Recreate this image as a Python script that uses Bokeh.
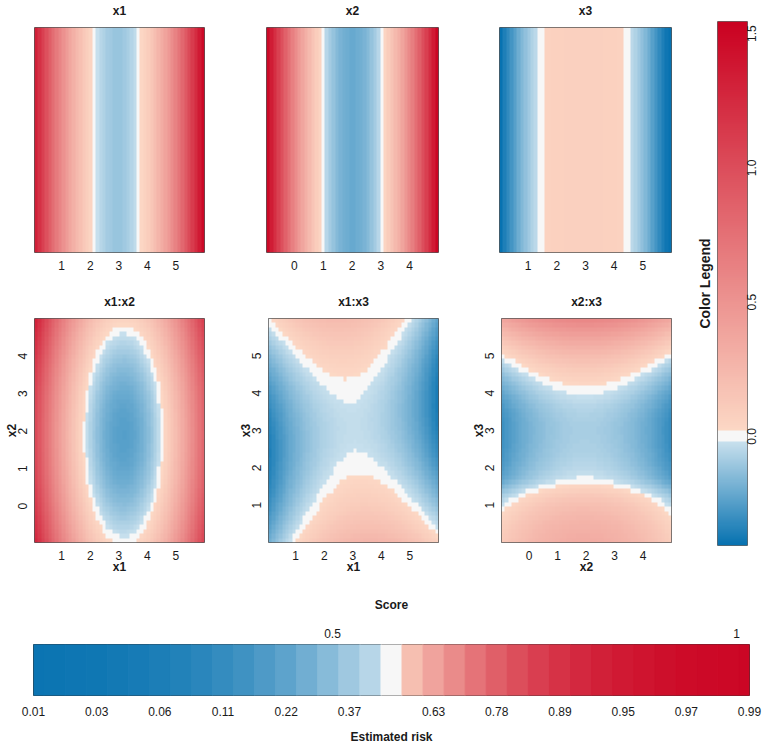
import math
import numpy as np
from bokeh.plotting import figure
from bokeh.models import Range1d, LinearColorMapper, FixedTicker, LinearAxis, ColumnDataSource
from bokeh.layouts import row, column
from bokeh.embed import file_html
from bokeh.resources import INLINE

# ---------------- data ----------------
X1_RANGE = (0.05, 6.0)
X2_RANGE = (-0.97, 5.0)
X3_RANGE = (0.0, 6.0)

x1_ticks = [1, 2, 3, 4, 5]
x2_ticks = [0, 1, 2, 3, 4]
x3_ticks = [1, 2, 3, 4, 5]

# single-term effects (50 cells across each variable's range)
x1_effect = [1.32, 1.20, 1.09, 0.98, 0.88, 0.78, 0.69, 0.60, 0.52, 0.44,
             0.37, 0.31, 0.24, 0.19, 0.13, 0.09, 0.05, 0.01, -0.02, -0.05,
             -0.07, -0.09, -0.10, -0.11, -0.11, -0.11, -0.10, -0.08, -0.06, -0.04,
             -0.01, 0.03, 0.06, 0.10, 0.15, 0.21, 0.27, 0.33, 0.40, 0.47,
             0.55, 0.63, 0.72, 0.82, 0.92, 1.02, 1.13, 1.24, 1.36, 1.48]
x2_effect = [1.48, 1.35, 1.22, 1.09, 0.98, 0.86, 0.76, 0.65, 0.56, 0.47,
             0.38, 0.31, 0.23, 0.16, 0.10, 0.05, 0.00, -0.05, -0.09, -0.12,
             -0.15, -0.17, -0.19, -0.20, -0.21, -0.21, -0.20, -0.19, -0.17, -0.15,
             -0.12, -0.09, -0.05, 0.00, 0.05, 0.11, 0.17, 0.24, 0.31, 0.39,
             0.48, 0.57, 0.66, 0.77, 0.87, 0.99, 1.10, 1.23, 1.36, 1.50]
x3_effect = [-0.40, -0.36, -0.32, -0.28, -0.24, -0.20, -0.16, -0.125, -0.095, -0.068,
             -0.042, -0.015, 0.01, 0.06, 0.065, 0.07, 0.07, 0.072, 0.074, 0.075,
             0.076, 0.077, 0.078, 0.078, 0.078, 0.078, 0.078, 0.077, 0.076, 0.075,
             0.074, 0.072, 0.07, 0.07, 0.065, 0.06, 0.01, -0.015, -0.042, -0.068,
             -0.095, -0.125, -0.16, -0.20, -0.24, -0.28, -0.32, -0.36, -0.39, -0.41]

# pairwise panels: value = x_part[x] + y_part[y] (+ x_int[x] * y_int[y])
x1x2_x1_part = [1.020, 0.923, 0.830, 0.741, 0.656, 0.574, 0.497, 0.423, 0.353, 0.287,
                0.225, 0.166, 0.112, 0.061, 0.015, -0.028, -0.067, -0.102, -0.134, -0.161,
                -0.185, -0.205, -0.221, -0.233, -0.241, -0.245, -0.246, -0.242, -0.235, -0.224,
                -0.209, -0.191, -0.168, -0.142, -0.111, -0.077, -0.039, 0.003, 0.048, 0.098,
                0.151, 0.209, 0.270, 0.334, 0.403, 0.476, 0.552, 0.633, 0.717, 0.805]
x1x2_x2_part = [0.244, 0.224, 0.204, 0.185, 0.168, 0.151, 0.135, 0.120, 0.106, 0.093,
                0.080, 0.069, 0.058, 0.048, 0.040, 0.032, 0.025, 0.018, 0.013, 0.009,
                0.005, 0.003, 0.001, 0.000, 0.000, 0.001, 0.003, 0.006, 0.009, 0.014,
                0.019, 0.025, 0.032, 0.040, 0.049, 0.059, 0.070, 0.081, 0.094, 0.107,
                0.121, 0.137, 0.153, 0.170, 0.187, 0.206, 0.226, 0.246, 0.267, 0.290]

x1x3_x1_part = [-0.309, -0.284, -0.260, -0.238, -0.216, -0.195, -0.175, -0.157, -0.139, -0.123,
                -0.107, -0.093, -0.079, -0.067, -0.056, -0.045, -0.036, -0.028, -0.021, -0.015,
                -0.010, -0.006, -0.003, -0.001, 0.000, 0.000, -0.002, -0.004, -0.007, -0.012,
                -0.017, -0.024, -0.031, -0.040, -0.049, -0.060, -0.072, -0.085, -0.098, -0.113,
                -0.129, -0.146, -0.164, -0.183, -0.203, -0.225, -0.247, -0.270, -0.294, -0.320]
x1x3_x3_part = [0.247, 0.226, 0.205, 0.185, 0.167, 0.149, 0.131, 0.115, 0.100, 0.085,
                0.072, 0.059, 0.047, 0.036, 0.025, 0.016, 0.008, 0.000, -0.007, -0.013,
                -0.018, -0.022, -0.025, -0.028, -0.029, -0.030, -0.030, -0.029, -0.027, -0.024,
                -0.021, -0.016, -0.011, -0.005, 0.002, 0.010, 0.019, 0.029, 0.039, 0.051,
                0.063, 0.076, 0.090, 0.105, 0.121, 0.137, 0.155, 0.173, 0.192, 0.212]
x1x3_x1_int = [-2.89, -2.77, -2.65, -2.53, -2.42, -2.30, -2.18, -2.06, -1.94, -1.82,
               -1.70, -1.58, -1.46, -1.34, -1.23, -1.11, -0.99, -0.87, -0.75, -0.63,
               -0.51, -0.39, -0.27, -0.15, -0.04, 0.08, 0.20, 0.32, 0.44, 0.56,
               0.68, 0.80, 0.92, 1.04, 1.16, 1.27, 1.39, 1.51, 1.63, 1.75,
               1.87, 1.99, 2.11, 2.23, 2.35, 2.46, 2.58, 2.70, 2.82, 2.94]
x1x3_x3_int = [0.0432, 0.0415, 0.0398, 0.0381, 0.0364, 0.0346, 0.0329, 0.0312, 0.0295, 0.0278,
               0.0261, 0.0244, 0.0227, 0.0210, 0.0193, 0.0176, 0.0159, 0.0142, 0.0125, 0.0108,
               0.0091, 0.0074, 0.0057, 0.0040, 0.0023, 0.0006, -0.0011, -0.0028, -0.0045, -0.0062,
               -0.0080, -0.0097, -0.0114, -0.0131, -0.0148, -0.0165, -0.0182, -0.0199, -0.0216, -0.0233,
               -0.0250, -0.0267, -0.0284, -0.0301, -0.0318, -0.0335, -0.0352, -0.0369, -0.0386, -0.0403]

x2x3_x2_part = [-0.213, -0.195, -0.179, -0.163, -0.148, -0.133, -0.120, -0.107, -0.094, -0.083,
                -0.072, -0.062, -0.053, -0.044, -0.037, -0.030, -0.023, -0.018, -0.013, -0.009,
                -0.006, -0.003, -0.001, 0.000, 0.000, 0.000, -0.002, -0.003, -0.006, -0.009,
                -0.014, -0.018, -0.024, -0.030, -0.037, -0.045, -0.054, -0.063, -0.073, -0.084,
                -0.095, -0.108, -0.121, -0.134, -0.149, -0.164, -0.180, -0.197, -0.214, -0.232]
x2x3_x3_part = [0.33, 0.32, 0.31, 0.295, 0.28, 0.26, 0.24, 0.22, 0.195, 0.165,
                0.13, 0.09, 0.05, 0.012, -0.015, -0.03, -0.042, -0.052, -0.06, -0.066,
                -0.071, -0.075, -0.078, -0.079, -0.08, -0.08, -0.079, -0.075, -0.069, -0.061,
                -0.050, -0.037, -0.022, -0.005, 0.015, 0.037, 0.062, 0.088, 0.117, 0.148,
                0.182, 0.218, 0.256, 0.297, 0.340, 0.385, 0.432, 0.482, 0.534, 0.588]

# colour legend
LEG_LOW, LEG_HIGH = -0.406, 1.545
legend_ticks = [0.0, 0.5, 1.0, 1.5]
legend_labels = ["0.0", "0.5", "1.0", "1.5"]

# score / risk bar
bar_risk = [0.013, 0.016, 0.021, 0.027, 0.035, 0.044, 0.057, 0.072, 0.091, 0.114,
            0.143, 0.177, 0.218, 0.264, 0.317, 0.375, 0.436, 0.500, 0.564, 0.625,
            0.683, 0.736, 0.782, 0.823, 0.857, 0.886, 0.909, 0.928, 0.945, 0.956,
            0.965, 0.973, 0.979, 0.984, 0.987]
risk_tick_cells = [0, 3, 6, 9, 12, 15, 19, 22, 25, 28, 31, 34]
risk_tick_labels = ["0.01", "0.03", "0.06", "0.11", "0.22", "0.37",
                    "0.63", "0.78", "0.89", "0.95", "0.97", "0.99"]
SCORE_AT_EDGES = (0.13, 1.016)
score_ticks = [0.5, 1.0]
score_labels = ["0.5", "1"]

# ---------------- styling ----------------
FONT = "Liberation Sans"
TXT = "#1a1a1a"
BLUE_PALE, BLUE_DARK = "#d1e5f0", "#0571b0"
RED_PALE, RED_DARK = "#fddbc7", "#ca0020"
WHITE = "#f7f7f7"
DIGIT_W = 6.67   # px width of one digit at 12px
DOT_W = 3.33


def _rgb(c):
    return tuple(int(c[i:i + 2], 16) for i in (1, 3, 5))


def lerp(c0, c1, t):
    t = min(max(t, 0.0), 1.0)
    a, b = _rgb(c0), _rgb(c1)
    return "#%02x%02x%02x" % tuple(int(round(a[i] + (b[i] - a[i]) * t)) for i in range(3))


N = 256
heat_pal = []
for i in range(N):
    v = LEG_LOW + (i + 0.5) * (LEG_HIGH - LEG_LOW) / N
    if abs(v) < 0.02:
        heat_pal.append(WHITE)
    elif v < 0:
        heat_pal.append(lerp(BLUE_PALE, BLUE_DARK, v / LEG_LOW))
    else:
        heat_pal.append(lerp(RED_PALE, RED_DARK, v / LEG_HIGH))
heat_mapper = LinearColorMapper(palette=heat_pal, low=LEG_LOW, high=LEG_HIGH)

risk_pal = []
for i in range(N):
    r = (i + 0.5) / N
    if abs(r - 0.5) < 0.03:
        risk_pal.append(WHITE)
    elif r < 0.5:
        risk_pal.append(lerp(BLUE_PALE, BLUE_DARK, (0.5 - r) / 0.5))
    else:
        risk_pal.append(lerp(RED_PALE, RED_DARK, (r - 0.5) / 0.5))
risk_mapper = LinearColorMapper(palette=risk_pal, low=0.0, high=1.0)


def style_axis(ax, standoff):
    ax.axis_line_color = None
    ax.major_tick_line_color = None
    ax.minor_tick_line_color = None
    ax.major_tick_out = 0
    ax.major_tick_in = 0
    ax.minor_tick_out = 0
    ax.minor_tick_in = 0
    ax.major_label_text_font = FONT
    ax.major_label_text_font_size = "12px"
    ax.major_label_text_color = TXT
    ax.major_label_standoff = standoff
    ax.axis_label_text_font = FONT
    ax.axis_label_text_font_size = "12px"
    ax.axis_label_text_font_style = "bold"
    ax.axis_label_text_color = TXT


def rotated_ticks(ax, ticks, labels, units_per_px, direction):
    """Rotated labels start/end at their anchor; shift anchors by half the
    label length so the text is centred on its tick value."""
    pos, over = [], {}
    for t, s in zip(ticks, labels):
        half = sum(DOT_W if ch == "." else DIGIT_W for ch in s) / 2.0
        p = t + direction * half * units_per_px
        pos.append(p)
        over[p] = s
    ax.ticker = FixedTicker(ticks=pos)
    ax.major_label_overrides = over
    ax.major_label_orientation = math.pi / 2


FRAME_H = 229
TOP_B, ROW1_BOTTOM, ROW2_BOTTOM = 23, 39, 33


def panel(title, xr, yr, xticks, width, bl, br, top_row, yticks=None, xlabel=None, ylabel=None):
    bb = ROW1_BOTTOM if top_row else ROW2_BOTTOM
    p = figure(width=width, height=TOP_B + FRAME_H + bb,
               x_range=Range1d(*xr), y_range=Range1d(*yr),
               toolbar_location=None, output_backend="svg",
               min_border_left=bl, min_border_right=br,
               min_border_top=TOP_B, min_border_bottom=bb,
               x_axis_location="below",
               y_axis_location="left" if yticks else None)
    p.grid.visible = False
    p.outline_line_color = "#555555"
    p.outline_line_width = 1
    p.background_fill_color = "white"
    p.border_fill_color = "white"
    ax = p.below[0]
    style_axis(ax, 8)
    ax.ticker = FixedTicker(ticks=xticks)
    if xlabel:
        ax.axis_label = xlabel
        ax.axis_label_standoff = -3
    # panel heading, centred above the frame
    head = LinearAxis(ticker=FixedTicker(ticks=[]))
    style_axis(head, 0)
    head.axis_label = title
    head.axis_label_standoff = 10
    p.add_layout(head, "above")
    if yticks:
        ay = p.left[0]
        style_axis(ay, 12)
        rotated_ticks(ay, yticks, [str(t) for t in yticks],
                      (yr[1] - yr[0]) / FRAME_H, +1)
        ay.axis_label = ylabel
        ay.axis_label_standoff = -8
    return p


def draw_1d(p, xr, vals):
    img = np.array([vals], dtype=float)
    p.image(image=[img], x=xr[0], y=0, dw=xr[1] - xr[0], dh=1, color_mapper=heat_mapper)


def draw_2d(p, xr, yr, xpart, ypart, xint=None, yint=None):
    img = np.add.outer(np.array(ypart), np.array(xpart))
    if xint is not None:
        img = img + np.outer(np.array(yint), np.array(xint))
    p.image(image=[img], x=xr[0], y=yr[0], dw=xr[1] - xr[0], dh=yr[1] - yr[0],
            color_mapper=heat_mapper)


# widths: 235 + 233 + 218 + 79 = 765
f_x1 = panel("x1", X1_RANGE, (0, 1), x1_ticks, 235, 34, 31, True)
draw_1d(f_x1, X1_RANGE, x1_effect)
f_x2 = panel("x2", X2_RANGE, (0, 1), x2_ticks, 233, 31, 30, True)
draw_1d(f_x2, X2_RANGE, x2_effect)
f_x3 = panel("x3", X3_RANGE, (0, 1), x3_ticks, 218, 31, 15, True)
draw_1d(f_x3, X3_RANGE, x3_effect)

f_x1x2 = panel("x1:x2", X1_RANGE, X2_RANGE, x1_ticks, 235, 34, 31, False,
               yticks=x2_ticks, xlabel="x1", ylabel="x2")
draw_2d(f_x1x2, X1_RANGE, X2_RANGE, x1x2_x1_part, x1x2_x2_part)
f_x1x3 = panel("x1:x3", X1_RANGE, X3_RANGE, x1_ticks, 233, 31, 30, False,
               yticks=x3_ticks, xlabel="x1", ylabel="x3")
draw_2d(f_x1x3, X1_RANGE, X3_RANGE, x1x3_x1_part, x1x3_x3_part, x1x3_x1_int, x1x3_x3_int)
f_x2x3 = panel("x2:x3", X2_RANGE, X3_RANGE, x2_ticks, 218, 31, 15, False,
               yticks=x3_ticks, xlabel="x2", ylabel="x3")
draw_2d(f_x2x3, X2_RANGE, X3_RANGE, x2x3_x2_part, x2x3_x3_part)

# colour legend
CB_H = (TOP_B + FRAME_H + ROW1_BOTTOM) + (TOP_B + FRAME_H + ROW2_BOTTOM)
CB_TOP, CB_BOTTOM = 21, 545
cb = figure(width=79, height=CB_H, x_range=Range1d(0, 1), y_range=Range1d(LEG_LOW, LEG_HIGH),
            toolbar_location=None, output_backend="svg",
            min_border_left=31, min_border_right=18, min_border_top=CB_TOP,
            min_border_bottom=CB_H - CB_BOTTOM,
            x_axis_location=None, y_axis_location="right",
            title="Color Legend", title_location="left")
cb.title.text_font = FONT
cb.title.text_font_size = "14px"
cb.title.text_font_style = "bold"
cb.title.text_color = TXT
cb.title.align = "center"
cb.title.standoff = 10
cb.grid.visible = False
cb.outline_line_color = "#666666"
cb.border_fill_color = "white"
ramp = np.linspace(LEG_LOW, LEG_HIGH, 512).reshape(-1, 1)
cb.image(image=[ramp], x=0, y=LEG_LOW, dw=1, dh=LEG_HIGH - LEG_LOW, color_mapper=heat_mapper)
acb = cb.right[0]
style_axis(acb, 4)
rotated_ticks(acb, legend_ticks, legend_labels,
              (LEG_HIGH - LEG_LOW) / (CB_BOTTOM - CB_TOP), -1)

# score bar
BF_H = 746 - CB_H
bf = figure(width=765, height=BF_H, x_range=Range1d(0, len(bar_risk) - 1), y_range=Range1d(0, 1),
            toolbar_location=None, output_backend="svg",
            min_border_left=33, min_border_right=16, min_border_top=644 - CB_H,
            min_border_bottom=49,
            x_axis_location="below", y_axis_location=None)
bf.grid.visible = False
bf.outline_line_color = "#333333"
bf.border_fill_color = "white"
cells = np.arange(len(bar_risk))
src = ColumnDataSource(dict(left=cells - 0.5, right=cells + 0.5, risk=bar_risk))
bf.quad(left="left", right="right", bottom=0, top=1, source=src,
        fill_color={"field": "risk", "transform": risk_mapper},
        line_color={"field": "risk", "transform": risk_mapper}, line_width=1)
ab = bf.below[0]
style_axis(ab, 11)
ab.ticker = FixedTicker(ticks=risk_tick_cells)
ab.major_label_overrides = {c: s for c, s in zip(risk_tick_cells, risk_tick_labels)}
ab.axis_label = "Estimated risk"
ab.axis_label_standoff = 11

bf.extra_x_ranges = {"score": Range1d(*SCORE_AT_EDGES)}
atop = LinearAxis(x_range_name="score")
style_axis(atop, 7)
atop.ticker = FixedTicker(ticks=score_ticks)
atop.major_label_overrides = {t: s for t, s in zip(score_ticks, score_labels)}
atop.axis_label = "Score"
atop.axis_label_standoff = 14
bf.add_layout(atop, "above")

root = column(row(column(row(f_x1, f_x2, f_x3), row(f_x1x2, f_x1x3, f_x2x3)), cb), bf)

with open("out.html", "w") as fh:
    fh.write(file_html(root, INLINE))
